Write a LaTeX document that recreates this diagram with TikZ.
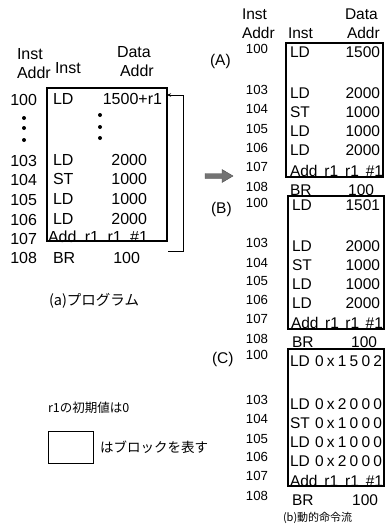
\documentclass[tikz,border=0pt]{standalone}
\usepackage{fontspec}
\setmainfont{Liberation Sans}
\newfontfamily\jp{Noto Sans CJK JP}
\usetikzlibrary{arrows.meta}
\begin{document}
\begin{tikzpicture}[x=1pt,y=-1pt,
  every node/.style={inner sep=0pt, outer sep=0pt},
  lt/.style={font=\fontsize{16}{16}\selectfont},
  rt/.style={font=\fontsize{15.5}{16}\selectfont},
  rnum/.style={font=\fontsize{13.2}{14}\selectfont, anchor=base east},
  blk/.style={draw, line width=1.3pt, anchor=north west},
  dotn/.style={circle, fill, minimum size=4pt},
  jpt/.style={anchor=base west},
  loopline/.style={line width=0.8pt, -{Stealth[length=4pt,width=3.5pt]}}]
\useasboundingbox (0,0) rectangle (390,525);

% ---------------- left panel (a) ----------------
\node[lt, anchor=base west] (lh1) at (17,59) {Inst};
\node[lt, anchor=base west] (lh2) at (17,78) {Addr};
\node[lt, anchor=base west] (lh3) at (55,73) {Inst};
\node[lt, anchor=base west] (lh4) at (117,57) {Data};
\node[lt, anchor=base west] (lh5) at (120,76) {Addr};

\node[blk, minimum width=120pt, minimum height=153pt] (boxa) at (47,88) {};

\foreach \n/\y in {100/105,103/166,104/185,105/205,106/225,107/244,108/263}
  \node[lt, anchor=base east] (la\n) at (37,\y) {\n};

\node[lt, anchor=base west] (li100) at (53,104) {LD};
\node[lt, anchor=base east] (ld100) at (162,104) {1500+r1};
\foreach \n/\y/\i/\d in {103/165/LD/2000,104/184/ST/1000,105/204/LD/1000,106/224/LD/2000}{
  \node[lt, anchor=base west] (li\n) at (53,\y) {\i};
  \node[lt, anchor=base east] (ld\n) at (147,\y) {\d};
}
\node[lt, anchor=base west] (li107) at (48,242) {\makebox[100pt][s]{Add r1 r1 \#1}};
\node[lt, anchor=base west] (li108) at (53,263) {BR};
\node[lt, anchor=base east] (ld108) at (140,263) {100};

\foreach \k/\y in {1/118,2/128,3/140}
  \node[dotn] (ldotl\k) at (24,\y) {};
\foreach \k/\y in {1/115,2/127,3/138}
  \node[dotn] (ldotm\k) at (100,\y) {};

\coordinate (loopstart) at (168,251);
\coordinate (loopcorner) at (183,95);
\draw[loopline] (loopstart) -| (loopcorner) -- (boxa.east |- loopcorner);

\node[jpt, font=\jp\fontsize{14.5}{15}\selectfont] (capa) at (49,305) {(a)プログラム};

% legend
\node[jpt, font=\jp\fontsize{12.5}{13}\selectfont] (init) at (48,412) {r1の初期値は0};
\node[draw, line width=1pt, anchor=north west, minimum width=45pt, minimum height=32pt] (legbox) at (48,431) {};
\node[jpt, font=\jp\fontsize{13.5}{14}\selectfont] (legtxt) at (100,452) {はブロックを表す};

% big arrow
\fill[black!55, draw=black!70, line width=0.4pt]
  (205,173.5) -- (222,173.5) -- (222,169.5) -- (233,176) -- (222,182.5) -- (222,178.5) -- (205,178.5) -- cycle;

% ---------------- right panel (b) ----------------
\node[rt, anchor=base west] (rh1) at (242,19) {Inst};
\node[rt, anchor=base west] (rh2) at (242,38) {Addr};
\node[rt, anchor=base west] (rh3) at (288,38) {Inst};
\node[rt, anchor=base west] (rh4) at (345,19) {Data};
\node[rt, anchor=base west] (rh5) at (347,38) {Addr};

% (A)
\node[rt, anchor=base west] (labA) at (210,65) {(A)};
\node[blk, minimum width=97pt, minimum height=134pt] (boxA) at (286,43) {};
\foreach \n/\y in {100/53,103/94,104/113,105/133,106/152,107/171,108/191}
  \node[rnum] (An\n) at (268,\y) {\n};
\foreach \n/\y/\i/\d in {100/57/LD/1500,103/98/LD/2000,104/117/ST/1000,105/136/LD/1000,106/155/LD/2000}{
  \node[rt, anchor=base west] (Ai\n) at (290,\y) {\i};
  \node[rt, anchor=base east] (Ad\n) at (380,\y) {\d};
}
\node[rt, anchor=base west] (Ai107) at (290,176) {\makebox[93pt][s]{Add r1 r1 \#1}};
\node[rt, anchor=base west] (Ai108) at (290,195) {BR};
\node[rt, anchor=base east] (Ad108) at (374,195) {100};

% (B)
\node[rt, anchor=base west] (labB) at (211,213) {(B)};
\node[blk, minimum width=96pt, minimum height=133pt] (boxB) at (288,196) {};
\foreach \n/\y in {100/207,103/247,104/267,105/285,106/304,107/323,108/343}
  \node[rnum] (Bn\n) at (268,\y) {\n};
\foreach \n/\y/\i/\d in {100/210/LD/1501,103/251/LD/2000,104/270/ST/1000,105/289/LD/1000,106/308/LD/2000}{
  \node[rt, anchor=base west] (Bi\n) at (292,\y) {\i};
  \node[rt, anchor=base east] (Bd\n) at (380,\y) {\d};
}
\node[rt, anchor=base west] (Bi107) at (291,328) {\makebox[92pt][s]{Add r1 r1 \#1}};
\node[rt, anchor=base west] (Bi108) at (292,347) {BR};
\node[rt, anchor=base east] (Bd108) at (377,347) {100};

% (C)
\node[rt, anchor=base west] (labC) at (212,363) {(C)};
\node[blk, minimum width=96pt, minimum height=137pt] (boxC) at (288,349) {};
\foreach \n/\y in {100/359,103/404,104/423,105/443,106/461,107/480,108/500}
  \node[rnum] (Cn\n) at (268,\y) {\n};
\foreach \n/\y/\i/\a/\b/\c/\e in {100/366/LD/1/5/0/2,103/409/LD/2/0/0/0,104/428/ST/1/0/0/0,105/447/LD/1/0/0/0,106/466/LD/2/0/0/0}{
  \node[rt, anchor=base west] (Ci\n) at (290,\y) {\i};
  \node[rt, anchor=base east] (Cd\n) at (382,\y) {\makebox[67pt][s]{0\hfil x\hfil \a\hfil \b\hfil \c\hfil \e}};
}
\node[rt, anchor=base west] (Ci107) at (290,486) {\makebox[93pt][s]{Add r1 r1 \#1}};
\node[rt, anchor=base west] (Ci108) at (292,505) {BR};
\node[rt, anchor=base east] (Cd108) at (378,505) {100};

\node[jpt, font=\jp\fontsize{11}{12}\selectfont] (capb) at (283,521) {(b)動的命令流};
\end{tikzpicture}
\end{document}
